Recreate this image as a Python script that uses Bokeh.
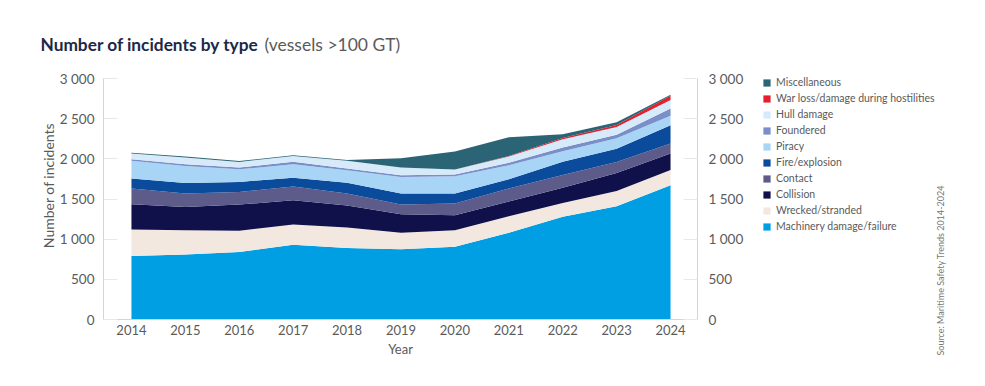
import math
from bokeh.plotting import figure
from bokeh.layouts import column, row
from bokeh.models import (ColumnDataSource, Range1d, LinearAxis, FixedTicker,
                          Legend, LegendItem, Label)
from bokeh.embed import file_html
from bokeh.resources import INLINE

# ---- data ----
years = [2014, 2015, 2016, 2017, 2018, 2019, 2020, 2021, 2022, 2023, 2024]
machinery = [790, 810, 840, 930, 890, 873, 905, 1080, 1280, 1410, 1670]
wrecked = [330, 300, 266, 254, 254, 208, 205, 205, 170, 190, 192]
collision = [315, 290, 324, 299, 275, 228, 187, 185, 190, 225, 204]
contact = [195, 167, 157, 174, 149, 121, 146, 160, 160, 135, 125]
fire = [125, 133, 125, 109, 133, 137, 124, 115, 165, 165, 228]
piracy = [220, 212, 158, 166, 158, 208, 216, 175, 130, 130, 116]
foundered = [20, 21, 22, 33, 21, 21, 21, 30, 45, 45, 92]
hull = [70, 83, 70, 70, 95, 95, 62, 80, 105, 95, 104]
war = [0, 0, 0, 0, 0, 0, 0, 5, 15, 25, 54]
misc = [10, 14, 10, 10, 10, 115, 224, 235, 45, 35, 12]

series_keys = ["machinery", "wrecked", "collision", "contact", "fire",
               "piracy", "foundered", "hull", "war", "misc"]
series_labels = ["Machinery damage/failure", "Wrecked/stranded", "Collision",
                 "Contact", "Fire/explosion", "Piracy", "Foundered",
                 "Hull damage", "War loss/damage during hostilities",
                 "Miscellaneous"]
series_colors = ["#009fe3", "#f3e8df", "#10114b", "#5c5b8a", "#0a4c9b",
                 "#a8d5f5", "#7a8ec8", "#d6eafa", "#e3202b", "#2b6474"]

y_ticks = [0, 500, 1000, 1500, 2000, 2500, 3000]
y_tick_labels = ["0", "500", "1 000", "1 500", "2 000", "2 500", "3 000"]

title_bold = "Number of incidents by type"
title_rest = "(vessels >100 GT)"
y_title = "Number of incidents"
x_title = "Year"
source_note = "Source: Maritime Safety Trends 2014-2024"

FONT = "Lato"
GREY = "#5a5a5a"
AXIS = "#d4d4d4"

src = ColumnDataSource(dict(year=years, machinery=machinery, wrecked=wrecked,
                            collision=collision, contact=contact, fire=fire,
                            piracy=piracy, foundered=foundered, hull=hull,
                            war=war, misc=misc))


def blank(width, height):
    # a figure whose frame fills its whole canvas, used to carry text
    f = figure(width=width, height=height, output_backend="svg",
               toolbar_location=None, x_axis_type=None, y_axis_type=None,
               x_range=Range1d(0, 1), y_range=Range1d(0, 1),
               min_border=0, title=None)
    f.min_border_left = f.min_border_right = 0
    f.min_border_top = f.min_border_bottom = 0
    f.frame_align = False
    f.outline_line_color = None
    f.xgrid.visible = False
    f.ygrid.visible = False
    return f


# ---- title strip (page y 0..60) ----
top = blank(969, 60)
top.add_layout(Label(x=40, y=16, x_units="screen", y_units="screen",
                     text=title_bold, text_font=FONT, text_font_style="bold",
                     text_font_size="17.3px", text_color="#1c2847",
                     text_baseline="alphabetic"))
top.add_layout(Label(x=264, y=16, x_units="screen", y_units="screen",
                     text=title_rest, text_font=FONT, text_font_size="17.5px",
                     text_color=GREY, text_baseline="alphabetic"))

# ---- y title strip (page x 0..56) ----
left = blank(56, 310)
left.add_layout(Label(x=48, y=185, x_units="screen", y_units="screen",
                      text=y_title, angle=math.pi / 2, text_font=FONT,
                      text_font_size="14px", text_color=GREY,
                      text_align="center", text_baseline="middle"))

# ---- main chart (page x 56..747) ----
p = figure(width=691, height=310, output_backend="svg", toolbar_location=None,
           x_range=Range1d(2013.4815, 2024.5), y_range=Range1d(0, 3000),
           min_border_left=46, min_border_right=50, min_border_top=18,
           min_border_bottom=51, title=None)
p.frame_align = False
p.outline_line_color = None
p.xgrid.visible = False
p.ygrid.visible = False

p.varea_stack(stackers=series_keys, x="year", color=series_colors, source=src)

overrides = {t: l for t, l in zip(y_ticks, y_tick_labels)}


def style_y(ax, standoff):
    ax.ticker = FixedTicker(ticks=y_ticks)
    ax.major_label_overrides = overrides
    ax.major_tick_out = 0
    ax.major_tick_in = 14
    ax.major_tick_line_color = "#e8e8e8"
    ax.minor_tick_line_color = None
    ax.axis_line_color = AXIS
    ax.major_label_text_font = FONT
    ax.major_label_text_font_size = "13.5px"
    ax.major_label_text_color = GREY
    ax.major_label_standoff = standoff


style_y(p.yaxis[0], 9)
right_axis = LinearAxis()
style_y(right_axis, 11)
p.add_layout(right_axis, "right")

xa = p.xaxis[0]
xa.ticker = FixedTicker(ticks=years)
xa.major_tick_out = 0
xa.major_tick_in = 0
xa.minor_tick_line_color = None
xa.axis_line_color = AXIS
xa.major_label_text_font = FONT
xa.major_label_text_font_size = "13px"
xa.major_label_text_color = GREY
xa.major_label_standoff = 5
xa.axis_label = x_title
xa.axis_label_text_font = FONT
xa.axis_label_text_font_style = "normal"
xa.axis_label_text_font_size = "13px"
xa.axis_label_text_color = GREY
xa.axis_label_standoff = 3

# ---- legend + source strip (page x 747..969) ----
side = blank(222, 310)
# same stacked series, kept outside this strip's view: they only feed the legend
key_renderers = side.varea_stack(stackers=series_keys, x="year",
                                 color=series_colors, source=src)
items = [LegendItem(label=series_labels[i], renderers=[key_renderers[i]])
         for i in range(len(series_keys) - 1, -1, -1)]
legend = Legend(items=items, location=(15, 137), padding=0, margin=0,
                border_line_color=None, background_fill_alpha=0,
                glyph_width=9, glyph_height=9, label_height=14, spacing=2,
                label_standoff=5, label_text_font=FONT,
                label_text_font_size="10.5px", label_text_color=GREY)
side.add_layout(legend)
side.add_layout(Label(x=193, y=15, x_units="screen", y_units="screen",
                      text=source_note, angle=math.pi / 2, text_font=FONT,
                      text_font_size="9px", text_color="#777777",
                      text_align="left", text_baseline="middle"))

layout = column(top, row(left, p, side, spacing=0), spacing=0)
open("out.html", "w").write(file_html(layout, INLINE))
